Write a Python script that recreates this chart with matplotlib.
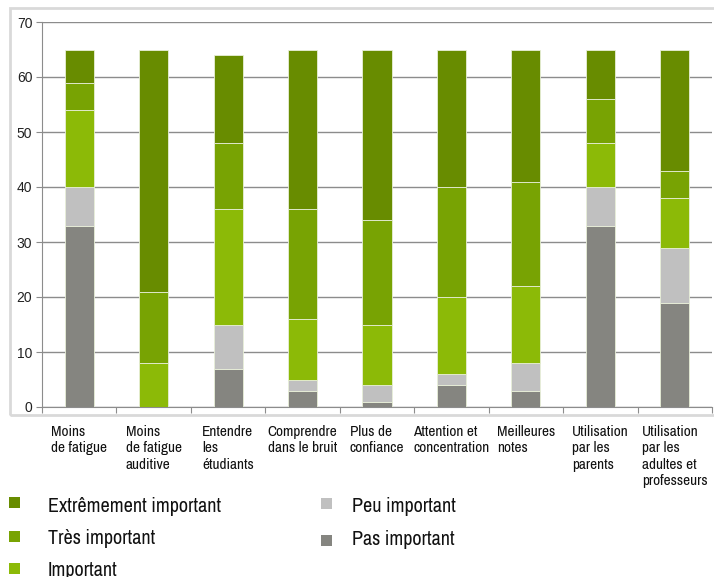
import numpy as np
import matplotlib.pyplot as plt
from matplotlib.patches import Rectangle

categories = ["Moins\nde fatigue", "Moins\nde fatigue\nauditive", "Entendre\nles\nétudiants",
              "Comprendre\ndans le bruit", "Plus de\nconfiance", "Attention et\nconcentration",
              "Meilleures\nnotes", "Utilisation\npar les\nparents", "Utilisation\npar les\nadultes et\nprofesseurs"]
pas = [33, 0, 7, 3, 1, 4, 3, 33, 19]
peu = [7, 0, 8, 2, 3, 2, 5, 7, 10]
important = [14, 8, 21, 11, 11, 14, 14, 8, 9]
tres = [5, 13, 12, 20, 19, 20, 19, 8, 5]
extreme = [6, 44, 16, 29, 31, 25, 24, 9, 22]

series = [("Pas important", pas, "#858580"),
          ("Peu important", peu, "#c0c0c0"),
          ("Important", important, "#8cba07"),
          ("Très important", tres, "#78a303"),
          ("Extrêmement important", extreme, "#688c00")]

plt.rcParams['font.family'] = ['Archivo Narrow', 'DejaVu Sans']

W, H = 714, 577
fig = plt.figure(figsize=(W/100, H/100), dpi=100)
ax = fig.add_axes([42/W, 1-407/H, 670/W, 385/H])

x = np.arange(len(categories))
bottom = np.zeros(len(categories))
for name, vals, col in series:
    ax.bar(x, vals, 0.39, bottom=bottom, color=col, edgecolor='#e8efd8', linewidth=0.6, label=name, zorder=3)
    bottom += np.array(vals)

ax.set_xlim(-0.5, len(categories)-0.5)
ax.set_ylim(0, 70)
ax.set_yticks(range(0, 71, 10))
ax.yaxis.grid(True, color='#8c8c8c', linewidth=1, zorder=0)
ax.set_xticks(np.arange(len(categories)+1)-0.5)
ax.set_xticklabels([])
ax.tick_params(axis='x', length=4, color='#8c8c8c', direction='out')
ax.tick_params(axis='y', length=4, color='#8c8c8c', labelsize=10, labelcolor='#222222', pad=3)
for t in ax.get_yticklabels():
    t.set_family(['Liberation Sans', 'DejaVu Sans'])
for s in ['top', 'right']:
    ax.spines[s].set_visible(False)
for s in ['left', 'bottom']:
    ax.spines[s].set_color('#8c8c8c')

# labels: left-aligned blocks centred under each category
for i, lab in enumerate(categories):
    ax.annotate(lab, xy=(i, 0), xycoords='data', xytext=(0, -18), textcoords='offset pixels',
                ha='center', va='top', multialignment='left', fontsize=11, linespacing=1.21,
                color='#111111', annotation_clip=False)

fig.add_artist(Rectangle((10/W, 1-415/H), 710/W, 407/H, transform=fig.transFigure,
                         fill=False, edgecolor='#d9d9d9', linewidth=2))

# (marker x, marker top, text x, baseline) in pixels
legend_pos = {"Extrêmement important": (9, 497, 48, 512), "Très important": (9, 531, 48, 544),
              "Important": (9, 563, 48, 576), "Peu important": (321, 498, 352, 512),
              "Pas important": (321, 535, 352, 545)}
for name, vals, col in series:
    mx, my, tx, ty = legend_pos[name]
    fig.add_artist(Rectangle((mx/W, 1-(my+11)/H), 11/W, 11/H, transform=fig.transFigure,
                             color=col, linewidth=0))
    fig.text(tx/W, 1-ty/H, name, ha='left', va='baseline', fontsize=14.5, color='#111111')

fig.savefig("out.png", dpi=100)
